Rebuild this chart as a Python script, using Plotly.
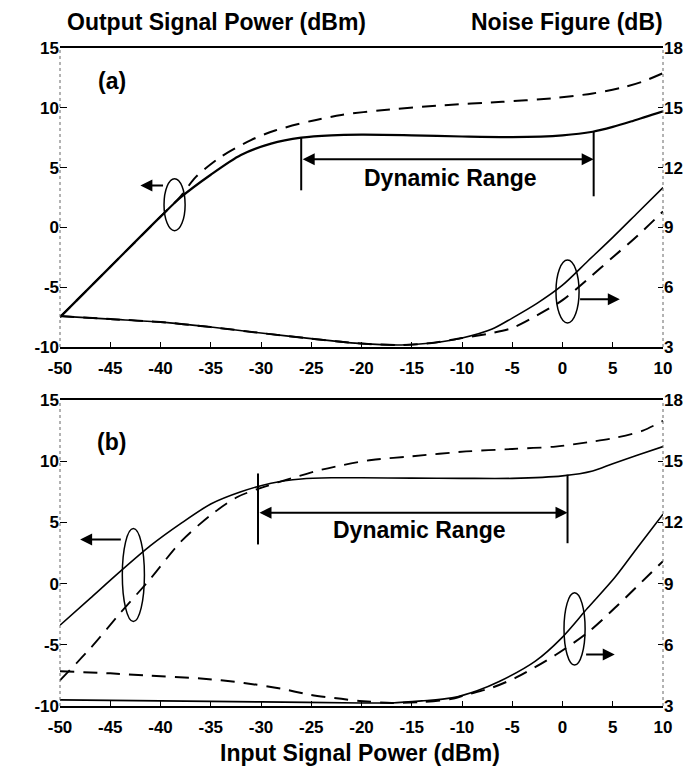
import plotly.graph_objects as go

# ---------------- data ----------------
x_ticks = [-50, -45, -40, -35, -30, -25, -20, -15, -10, -5, 0, 5, 10]
x_ticktext = ["-50", "-45", "-40", "-35", "-30", "-25", "-20", "-15", "-10", "-5", "0", "5", "10"]
yl_ticks = [-10, -5, 0, 5, 10, 15]
yl_ticktext = ["-10", "-5", "0", "5", "10", "15"]
yr_ticks = [3, 6, 9, 12, 15, 18]
yr_ticktext = ["3", "6", "9", "12", "15", "18"]

# Panel (a) output power (dBm)
a_out_solid_x = [-50, -45, -40, -38, -35, -32, -29, -26, -23, -20, -15, -10, -5, 0, 3, 5, 7, 10]
a_out_solid_y = [-7.5, -3.3, 0.9, 2.5, 4.4, 6.05, 7.0, 7.5, 7.7, 7.75, 7.7, 7.6, 7.55, 7.7, 8.0, 8.4, 8.9, 9.7]
a_out_dash_x = [-50, -45, -40, -38, -36.5, -34, -31, -28.6, -25, -22, -18, -12, -6, -1, 3, 6, 8, 10]
a_out_dash_y = [-7.5, -3.3, 0.9, 2.6, 4.2, 5.9, 7.3, 8.1, 8.9, 9.4, 9.8, 10.2, 10.5, 10.8, 11.2, 11.7, 12.2, 12.9]
# Panel (a) noise figure (dB)
a_nf_solid_x = [-50, -45, -40, -35, -30, -25, -20, -16, -13, -10, -7, -5, -2.5, 0, 2.5, 5, 7.5, 10]
a_nf_solid_y = [4.55, 4.4, 4.25, 4.0, 3.7, 3.42, 3.17, 3.1, 3.2, 3.45, 3.9, 4.45, 5.2, 6.1, 7.3, 8.5, 9.75, 11.0]
a_nf_dash_x = [-50, -45, -40, -35, -30, -25, -20, -16, -13, -10, -7, -5, -2.5, 0, 2.5, 5, 7.5, 10]
a_nf_dash_y = [4.55, 4.4, 4.25, 4.0, 3.7, 3.42, 3.17, 3.1, 3.2, 3.45, 3.7, 3.95, 4.6, 5.35, 6.4, 7.5, 8.6, 9.8]

# Panel (b) output power (dBm)
b_out_solid_x = [-50, -47, -44, -41, -38, -35, -32, -29, -26, -23, -20, -15, -10, -5, 0, 3, 5, 7.5, 10]
b_out_solid_y = [-3.4, -1.2, 1.0, 3.1, 4.9, 6.5, 7.5, 8.2, 8.55, 8.65, 8.65, 8.62, 8.6, 8.6, 8.8, 9.2, 9.8, 10.5, 11.2]
b_out_dash_x = [-50, -47, -44, -41, -38, -35, -32.3, -29.7, -27, -24, -21.8, -19, -15, -9.6, -5, -0.7, 3, 5.2, 8, 10]
b_out_dash_y = [-7.9, -5.3, -2.4, 0.4, 3.4, 5.6, 7.1, 7.9, 8.6, 9.3, 9.7, 10.1, 10.4, 10.8, 11.0, 11.2, 11.6, 11.9, 12.5, 13.3]
# Panel (b) noise figure (dB)
b_nf_solid_x = [-50, -40, -30, -20, -17, -14, -11, -8.5, -6.3, -2.7, -0.1, 2.5, 5.2, 7.5, 10]
b_nf_solid_y = [3.3, 3.25, 3.2, 3.15, 3.15, 3.25, 3.4, 3.75, 4.2, 5.2, 6.33, 7.8, 9.3, 10.8, 12.4]
b_nf_dash_x = [-50, -45, -41.6, -36, -31.7, -28, -25.1, -22, -20.2, -17, -14, -11, -9.6, -7, -4.6, -0.7, 2.5, 5.2, 7.5, 10]
b_nf_dash_y = [4.7, 4.6, 4.5, 4.35, 4.13, 3.85, 3.55, 3.35, 3.25, 3.15, 3.2, 3.35, 3.55, 3.9, 4.4, 5.5, 6.6, 7.8, 8.9, 10.1]

FONT = "Liberation Sans, Arial, sans-serif"
DASH = "14px,9px"

fig = go.Figure()

def add_line(x, y, xa, ya, dash=None, width=2.0):
    fig.add_trace(go.Scatter(
        x=x, y=y, xaxis=xa, yaxis=ya, mode="lines",
        line=dict(color="black", width=width, dash=dash, shape="spline", smoothing=0.8),
        showlegend=False, hoverinfo="skip"))

add_line(a_out_solid_x, a_out_solid_y, "x", "y", width=2.2)
add_line(a_out_dash_x, a_out_dash_y, "x", "y", dash=DASH, width=2.0)
add_line(a_nf_solid_x, a_nf_solid_y, "x", "y2", width=1.6)
add_line(a_nf_dash_x, a_nf_dash_y, "x", "y2", dash=DASH, width=2.0)

add_line(b_out_solid_x, b_out_solid_y, "x2", "y3", width=1.6)
add_line(b_out_dash_x, b_out_dash_y, "x2", "y3", dash=DASH, width=1.8)
add_line(b_nf_solid_x, b_nf_solid_y, "x2", "y4", width=1.6)
add_line(b_nf_dash_x, b_nf_dash_y, "x2", "y4", dash=DASH, width=2.0)

tickfont = dict(family=FONT, size=17, color="black", weight="bold")

def xaxis_cfg(anchor):
    return dict(domain=[0, 1], anchor=anchor, range=[-50, 10], tickmode="array",
                tickvals=x_ticks, ticktext=x_ticktext, ticks="inside", ticklen=5,
                tickcolor="black", tickwidth=1, showline=True, linecolor="black",
                linewidth=2, mirror=True, showgrid=False, zeroline=False, tickfont=tickfont,
                ticklabelstandoff=5)

def yl_cfg(domain, anchor):
    return dict(domain=domain, anchor=anchor, range=[-10, 15], tickmode="array",
                tickvals=yl_ticks, ticktext=yl_ticktext, ticks="inside", ticklen=7,
                tickcolor="black", tickwidth=1, showline=False, showgrid=False,
                zeroline=False, tickfont=tickfont)

def yr_cfg(overlay, anchor):
    return dict(overlaying=overlay, anchor=anchor, side="right", range=[3, 18],
                tickmode="array", tickvals=yr_ticks, ticktext=yr_ticktext,
                ticks="inside", ticklen=5, tickcolor="black", tickwidth=1,
                showline=False, showgrid=False, zeroline=False, tickfont=tickfont)

dom_a = [0.5456, 1.0]
dom_b = [0.0, 0.465]

fig.update_layout(
    width=691, height=767,
    margin=dict(l=52, r=36, t=40, b=69),
    paper_bgcolor="white", plot_bgcolor="white",
    font=dict(family=FONT, color="black"),
    xaxis=xaxis_cfg("y"),
    yaxis=yl_cfg(dom_a, "x"),
    yaxis2=yr_cfg("y", "x"),
    xaxis2=xaxis_cfg("y3"),
    yaxis3=yl_cfg(dom_b, "x2"),
    yaxis4=yr_cfg("y3", "x2"),
)

shapes = []
# dotted side borders
for xr, yr in (("x", "y"), ("x2", "y3")):
    for xx in (0, 1):
        shapes.append(dict(type="line", xref=xr + " domain", yref=yr + " domain",
                           x0=xx, x1=xx, y0=0, y1=1,
                           line=dict(color="#666", width=1, dash="dot")))

def ellipse(xr, yr, cx, cy, w, h):
    shapes.append(dict(type="circle", xref=xr, yref=yr,
                       x0=cx - w / 2, x1=cx + w / 2, y0=cy - h / 2, y1=cy + h / 2,
                       line=dict(color="black", width=1.5)))

def vbar(xr, yr, x, y0, y1):
    shapes.append(dict(type="line", xref=xr, yref=yr, x0=x, x1=x, y0=y0, y1=y1,
                       line=dict(color="black", width=2)))

ellipse("x", "y", -38.6, 1.9, 2.1, 4.35)
ellipse("x", "y", 0.5, -5.36, 2.3, 5.27)
ellipse("x2", "y3", -42.7, 0.7, 2.2, 7.6)
ellipse("x2", "y3", 1.2, -3.7, 2.1, 5.9)

vbar("x", "y", -26.0, 3.1, 7.5)
vbar("x", "y", 3.1, 2.6, 8.05)
vbar("x2", "y3", -30.3, 3.2, 9.0)
vbar("x2", "y3", 0.5, 3.3, 8.9)

annotations = []

def arrow(xr, yr, x_head, y_head, x_tail, y_tail, both=False):
    annotations.append(dict(xref=xr, yref=yr, axref=xr, ayref=yr,
                            x=x_head, y=y_head, ax=x_tail, ay=y_tail, text="",
                            showarrow=True, arrowhead=2, arrowsize=1.2, arrowwidth=2,
                            arrowcolor="black",
                            arrowside="end+start" if both else "end"))

arrow("x", "y", -42.0, 3.5, -39.6, 3.5)
arrow("x", "y", 5.7, -6.0, 1.6, -6.0)
arrow("x2", "y3", -48.0, 3.6, -43.8, 3.6)
arrow("x2", "y3", 5.2, -5.8, 2.2, -5.8)
arrow("x", "y", 3.1, 5.7, -26.0, 5.7, both=True)
arrow("x2", "y3", 0.5, 5.8, -30.3, 5.8, both=True)

lab = dict(family=FONT, size=23, color="black", weight="bold")
annotations += [
    dict(xref="x", yref="y", x=-11.1, y=4.1, text="Dynamic Range", showarrow=False, font=lab),
    dict(xref="x2", yref="y3", x=-14.2, y=4.4, text="Dynamic Range", showarrow=False, font=lab),
    dict(xref="x", yref="y", x=-44.8, y=12.2, text="(a)", showarrow=False, font=lab),
    dict(xref="x2", yref="y3", x=-44.9, y=11.6, text="(b)", showarrow=False, font=lab),
    dict(xref="paper", yref="paper", x=0.008, y=1.0395, xanchor="left", yanchor="middle",
         text="Output Signal Power (dBm)", showarrow=False, font=lab),
    dict(xref="paper", yref="paper", x=1.003, y=1.0395, xanchor="right", yanchor="middle",
         text="Noise Figure (dB)", showarrow=False, font=lab),
    dict(xref="paper", yref="paper", x=0.4975, y=-0.0714, xanchor="center", yanchor="middle",
         text="Input Signal Power (dBm)", showarrow=False, font=lab),
]

fig.update_layout(shapes=shapes, annotations=annotations)
fig.write_html("out.html")
